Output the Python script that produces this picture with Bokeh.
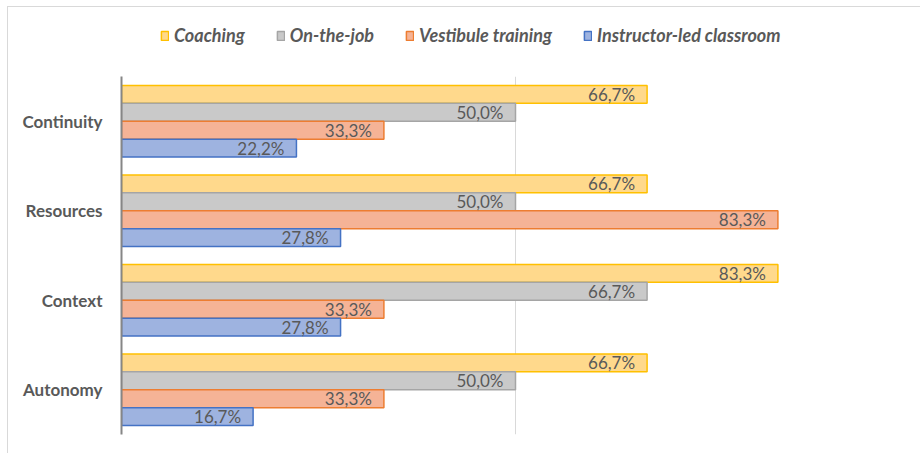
from bokeh.plotting import figure
from bokeh.layouts import column
from bokeh.models import ColumnDataSource, FactorRange, Range1d, Legend, LegendItem, LabelSet
from bokeh.transform import dodge
from bokeh.core.properties import value
from bokeh.embed import file_html
from bokeh.resources import INLINE

categories = ["Autonomy", "Context", "Resources", "Continuity"]
series_names = ["Coaching", "On-the-job", "Vestibule training", "Instructor-led classroom"]
coaching = [66.7, 83.3, 66.7, 66.7]
on_the_job = [50.0, 66.7, 50.0, 50.0]
vestibule = [33.3, 33.3, 83.3, 33.3]
instructor = [16.7, 27.8, 27.8, 22.2]

fills = ["#FFD98C", "#C9C9C9", "#F5B396", "#9EB3E0"]
lines = ["#FFC000", "#A5A5A5", "#ED7D31", "#4472C4"]
offsets = [0.3, 0.1, -0.1, -0.3]

FONT = "Lato"
TXT = "#595959"

# legend strip on top
lf = figure(width=912, height=69, output_backend="svg", toolbar_location=None,
            x_range=Range1d(0, 1), y_range=Range1d(0, 1), min_border=0)
lf.axis.visible = False
lf.grid.visible = False
lf.outline_line_color = None

p = figure(width=912, height=377, output_backend="svg", toolbar_location=None,
           y_range=FactorRange(factors=categories, range_padding=0),
           x_range=Range1d(0, 100),
           min_border_left=113, min_border_right=11, min_border_top=0, min_border_bottom=19)
p.outline_line_color = None
p.background_fill_color = "white"
p.border_fill_color = "white"

items = []
for name, vals, fc, lc, off in zip(series_names, [coaching, on_the_job, vestibule, instructor],
                                   fills, lines, offsets):
    src = ColumnDataSource(dict(cat=categories, val=vals,
                                lab=[f"{v:.1f}".replace(".", ",") + "%" for v in vals]))
    p.hbar(y=dodge("cat", off, range=p.y_range), right="val", left=0, height=0.2,
           source=src, fill_color=fc, line_color=lc, line_width=1.5)
    lbl = LabelSet(x="val", y=dodge("cat", off, range=p.y_range), text="lab", source=src,
                   text_align="right", text_baseline="middle", x_offset=-12, y_offset=0,
                   text_font=value(FONT), text_font_size="17px", text_color=TXT)
    p.add_layout(lbl)
    # legend handle only: kept outside the legend strip's visible range
    dummy = lf.hbar(y=[-5], right=[0], left=0, height=0.1, fill_color=fc, line_color=lc,
                    line_width=1.5)
    items.append(LegendItem(label=name, renderers=[dummy]))

p.xaxis.visible = False
p.xgrid.ticker = [50, 100]
p.xgrid.grid_line_color = "#D9D9D9"
p.xgrid.grid_line_width = 1
p.ygrid.grid_line_color = None

ya = p.yaxis[0]
ya.axis_line_color = "#868686"
ya.axis_line_width = 2
ya.major_tick_line_color = None
ya.minor_tick_line_color = None
ya.major_label_standoff = 13
ya.major_label_text_font = FONT
ya.major_label_text_font_size = "17px"
ya.major_label_text_font_style = "bold"
ya.major_label_text_color = TXT

legend = Legend(items=items, orientation="horizontal", location=(39, 30),
                padding=0, margin=0, border_line_color=None, background_fill_alpha=0,
                glyph_width=9, glyph_height=11, label_standoff=5, spacing=31,
                label_text_font=FONT, label_text_font_size="18px",
                label_text_font_style="bold italic", label_text_color=TXT)
lf.add_layout(legend, "center")

layout = column(lf, p, spacing=0)
layout.styles = {"border-top": "1px solid #D9D9D9", "border-left": "1px solid #D9D9D9",
                 "margin-top": "6px", "margin-left": "7px"}
open("out.html", "w").write(file_html(layout, INLINE))
